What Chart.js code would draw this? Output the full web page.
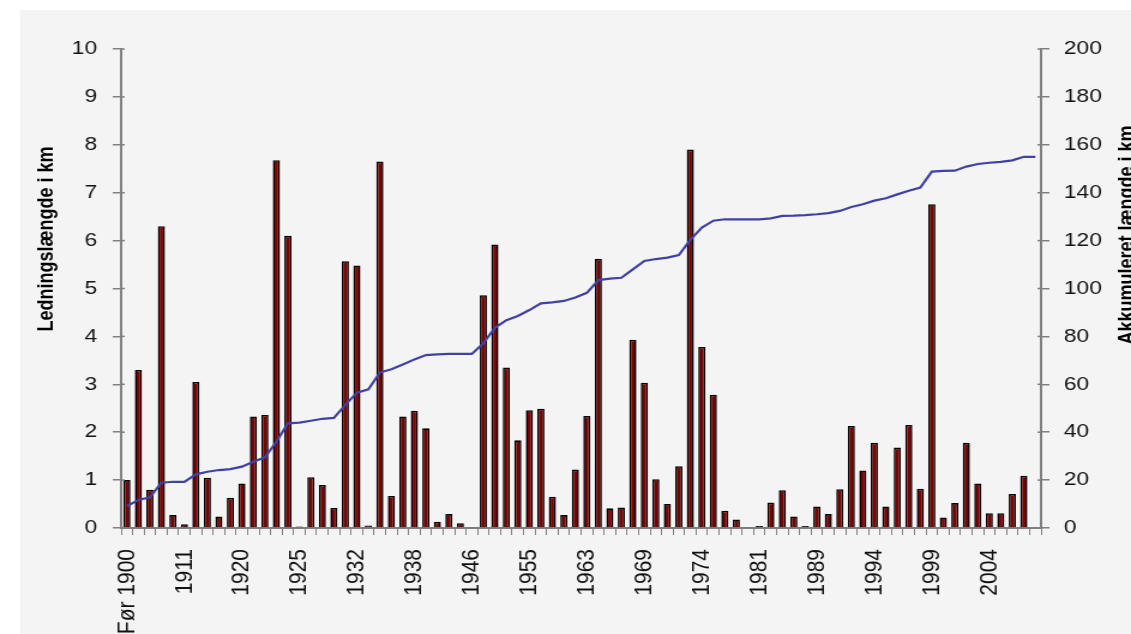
<!DOCTYPE html>
<html lang="da">
<head>
<meta charset="utf-8">
<title>Ledningslængde</title>
<script src="https://cdn.jsdelivr.net/npm/chart.js@4.4.1/dist/chart.umd.min.js"></script>
<style>
  html, body { margin: 0; padding: 0; background: #fff; width: 1131px; height: 634px; overflow: hidden; }
  #bg { position: absolute; left: 20px; top: 10px; right: 0; bottom: 0; background: #f4f4f4; }
  #chart { position: absolute; left: 0; top: 0; }
</style>
</head>
<body>
<div id="bg"></div>
<!-- canvas tegnes smallere og strækkes vandret, som i originalen -->
<canvas id="chart" width="943" height="634" style="width:1131px;height:634px"></canvas>
<script>
// Kategorier (kun hver 5. vises på aksen)
const categories = [
    'Før 1900', '1902', '1904', '1906', '1908', '1911', '1913', '1915', '1917', '1918',
    '1920', '1921', '1922', '1923', '1924', '1925', '1927', '1928', '1929', '1930',
    '1932', '1933', '1934', '1935', '1936', '1938', '1939', '1940', '1942', '1944',
    '1946', '1948', '1950', '1952', '1953', '1955', '1957', '1958', '1960', '1961',
    '1963', '1964', '1965', '1966', '1967', '1969', '1970', '1971', '1972', '1973',
    '1974', '1975', '1977', '1978', '1979', '1981', '1983', '1984', '1986', '1987',
    '1989', '1990', '1991', '1992', '1993', '1994', '1995', '1996', '1997', '1998',
    '1999', '2000', '2001', '2002', '2003', '2004', '2005', '2006', '2007', '2008'
];

// Ledningslængde pr. år (km) - venstre akse
const lengthKm = [
    1.0, 3.3, 0.8, 6.3, 0.27, 0.08, 3.05, 1.05, 0.24, 0.63,
    0.93, 2.33, 2.36, 7.68, 6.1, 0.03, 1.06, 0.9, 0.42, 5.57,
    5.48, 0.05, 7.65, 0.67, 2.33, 2.45, 2.08, 0.13, 0.29, 0.1,
    0.02, 4.86, 5.92, 3.35, 1.83, 2.46, 2.49, 0.65, 0.27, 1.22,
    2.34, 5.62, 0.41, 0.43, 3.93, 3.03, 1.02, 0.5, 1.29, 7.9,
    3.78, 2.78, 0.36, 0.18, 0.02, 0.04, 0.53, 0.79, 0.24, 0.04,
    0.45, 0.29, 0.81, 2.13, 1.2, 1.78, 0.45, 1.68, 2.15, 0.82,
    6.76, 0.22, 0.52, 1.78, 0.93, 0.31, 0.31, 0.71, 1.09, 0
];

// Akkumuleret længde (km) - højre akse
const cumulativeKm = [
    9.2, 11.7, 12.8, 18.9, 19.3, 19.3, 22.4, 23.5, 24.2, 24.6,
    25.6, 27.7, 29.5, 36.0, 43.7, 44.0, 44.8, 45.6, 46.0, 51.4,
    56.5, 57.9, 64.9, 66.3, 68.3, 70.4, 72.2, 72.5, 72.7, 72.7,
    72.7, 77.1, 83.6, 86.8, 88.5, 91.0, 93.8, 94.2, 94.8, 96.2,
    98.2, 103.5, 104.1, 104.5, 108.0, 111.5, 112.3, 112.9, 114.0, 120.3,
    125.4, 128.3, 128.9, 128.9, 128.9, 128.9, 129.3, 130.3, 130.4, 130.6,
    131.0, 131.5, 132.4, 134.0, 135.2, 136.7, 137.7, 139.3, 140.8, 142.1,
    148.8, 149.1, 149.2, 150.9, 152.0, 152.5, 152.9, 153.5, 155.0, 155.0
];

const leftTitle = 'Ledningslængde i km';
const rightTitle = 'Akkumuleret længde i km';

const AXIS_GREY = '#808080';
const FONT = '"Liberation Sans", Arial, sans-serif';

Chart.defaults.font.family = FONT;
Chart.defaults.color = '#111';

// Aksetitler + små tick-stumper ind i plotområdet
const axisExtras = {
    id: 'axisExtras',
    afterDraw(chart) {
        const { ctx, chartArea, scales } = chart;
        ctx.save();
        ctx.strokeStyle = AXIS_GREY;
        ctx.lineWidth = 1.5;
        scales.y.ticks.forEach(t => {
            const py = scales.y.getPixelForValue(t.value);
            ctx.beginPath();
            ctx.moveTo(chartArea.left, py);
            ctx.lineTo(chartArea.left + 3, py);
            ctx.stroke();
        });
        scales.y1.ticks.forEach(t => {
            const py = scales.y1.getPixelForValue(t.value);
            ctx.beginPath();
            ctx.moveTo(chartArea.right, py);
            ctx.lineTo(chartArea.right - 3, py);
            ctx.stroke();
        });

        ctx.fillStyle = '#000';
        ctx.font = 'bold 18px ' + FONT;
        ctx.textAlign = 'center';
        ctx.textBaseline = 'middle';
        [[39, 239, leftTitle], [940, 235, rightTitle]].forEach(([x, y, text]) => {
            ctx.save();
            ctx.translate(x, y);
            ctx.rotate(-Math.PI / 2);
            ctx.fillText(text, 0, 0);
            ctx.restore();
        });
        ctx.restore();
    }
};

const tickFont = { size: 19 };

new Chart(document.getElementById('chart'), {
    type: 'bar',
    data: {
        labels: categories,
        datasets: [
            {
                type: 'line',
                label: rightTitle,
                data: cumulativeKm,
                yAxisID: 'y1',
                borderColor: '#4040a8',
                borderWidth: 2.2,
                pointRadius: 0,
                tension: 0,
                fill: false,
                order: 0
            },
            {
                type: 'bar',
                label: leftTitle,
                data: lengthKm,
                yAxisID: 'y',
                backgroundColor: '#7d0000',
                borderColor: '#000',
                borderWidth: 1.6,
                barPercentage: 0.62,
                categoryPercentage: 1,
                order: 1
            }
        ]
    },
    options: {
        responsive: false,
        animation: false,
        devicePixelRatio: 1,
        layout: { padding: { top: 49, left: 0, right: 0, bottom: 0 } },
        plugins: {
            legend: { display: false },
            tooltip: { enabled: false }
        },
        scales: {
            x: {
                grid: { display: true, drawOnChartArea: false, offset: true, tickLength: 7, color: AXIS_GREY, lineWidth: 1 },
                border: { display: true, color: AXIS_GREY, width: 2 },
                ticks: {
                    autoSkip: false,
                    minRotation: 90,
                    maxRotation: 90,
                    padding: 14,
                    font: { size: 21 },
                    callback: (value, index) => index % 5 === 0 ? categories[index] : ''
                },
                afterFit: scale => { scale.height = 106; }
            },
            y: {
                position: 'left',
                min: 0,
                max: 10,
                grid: { drawOnChartArea: false, tickLength: 7, color: AXIS_GREY, lineWidth: 1.5 },
                border: { color: AXIS_GREY, width: 2 },
                ticks: { stepSize: 1, padding: 13, font: tickFont },
                afterFit: scale => { scale.width = 101; }
            },
            y1: {
                position: 'right',
                min: 0,
                max: 200,
                grid: { drawOnChartArea: false, tickLength: 7, color: AXIS_GREY, lineWidth: 1.5 },
                border: { color: AXIS_GREY, width: 2 },
                ticks: { stepSize: 20, padding: 12, font: tickFont },
                afterFit: scale => { scale.width = 75; }
            }
        }
    },
    plugins: [axisExtras]
});
</script>
</body>
</html>
